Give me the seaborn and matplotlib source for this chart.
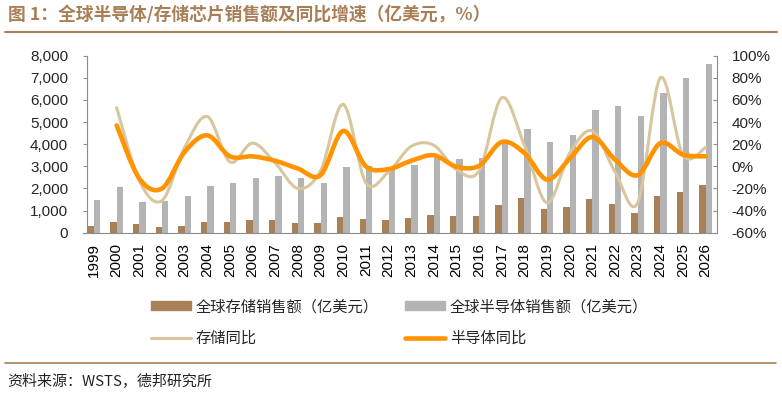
import numpy as np
import pandas as pd
import seaborn as sns
import matplotlib.pyplot as plt
from matplotlib.path import Path
from matplotlib.patches import PathPatch, Patch
from matplotlib.lines import Line2D
from matplotlib.ticker import FuncFormatter

# data
years = list(range(1999, 2027))
memory_sales = [316, 497, 392, 256, 316, 467, 482, 572, 572, 452, 437, 693, 602, 557,
                663, 783, 768, 753, 1235, 1566, 1054, 1160, 1521, 1295, 904, 1642, 1837, 2139]
semi_sales = [1476, 2048, 1390, 1430, 1657, 2123, 2259, 2470, 2545, 2470, 2244, 2967, 2995, 2916,
              3050, 3358, 3352, 3389, 4120, 4669, 4111, 4398, 5542, 5723, 5271, 6310, 6988, 7605]
yoy_years = list(range(2000, 2027))
memory_yoy = [53, -13, -31, 17, 45, 4, 21, 3, -20, -4, 56, -15, -5, 18, 19, -3, -4,
              62, 19, -33, 12, 32, -5, -33, 80, 10, 17]
semi_yoy = [37, -11, -20, 13, 28, 9, 9, 5, -2, -8, 32, 0, -2.5, 5, 10, -0.3, 0.5,
            22, 12, -12, 7, 26.5, 6, -8, 21, 10.5, 9]

names = ['全球存储销售额（亿美元）', '全球半导体销售额（亿美元）', '存储同比', '半导体同比']

sns.set_style('white')
plt.rcParams['font.family'] = ['Liberation Sans', 'Noto Sans CJK SC']
cjk = ['Noto Sans CJK SC', 'DejaVu Sans']

BROWN = '#A88158'
GRAY = '#B4B4B4'
TAN = '#D8C69E'
ORANGE = '#FF9300'
RULE = '#A97F57'
SPINE = '#8C8C8C'

bars = pd.DataFrame({
    'year': [str(y) for y in years] * 2,
    'sales': memory_sales + semi_sales,
    'series': [names[0]] * len(years) + [names[1]] * len(years),
})


def smooth_path(xs, ys):
    # excel-like smoothed line: bezier through every point
    pts = np.column_stack([xs, ys]).astype(float)
    n = len(pts)
    verts = [pts[0]]
    codes = [Path.MOVETO]
    for i in range(n - 1):
        p_prev = pts[max(i - 1, 0)]
        p0 = pts[i]
        p1 = pts[i + 1]
        p_next = pts[min(i + 2, n - 1)]
        c1 = p0 + (p1 - p_prev) / 6
        c2 = p1 - (p_next - p0) / 6
        verts += [c1, c2, p1]
        codes += [Path.CURVE4] * 3
    return Path(verts, codes)


fig = plt.figure(figsize=(7.82, 4.03), dpi=100)
W, H = 782, 403
ax = fig.add_axes([82.7 / W, 1 - 232.7 / H, (717 - 82.7) / W, 177 / H])

sns.barplot(data=bars, x='year', y='sales', hue='series', palette=[BROWN, GRAY],
            width=0.56, saturation=1, errorbar=None, linewidth=0, legend=False, ax=ax)
ax.set_xlim(-0.5, len(years) - 0.5)
ax.set_ylim(0, 8000)
ax.set_yticks(range(0, 8001, 1000))
ax.yaxis.set_major_formatter(FuncFormatter(lambda v, p: f'{v:,.0f}'))
ax.set_xlabel('')
ax.set_ylabel('')
ax.set_xticks(range(len(years)))
ax.set_xticklabels([str(y) for y in years], rotation=90)
ax.set_xticks(np.arange(0.5, len(years) - 1, 1), minor=True)
ax.tick_params(axis='x', which='major', length=0, pad=7.5, labelsize=11, colors='black')
ax.tick_params(axis='x', which='minor', direction='in', length=2.9, width=0.8, color=SPINE)
ax.tick_params(axis='y', direction='out', length=2.9, width=0.8, color=SPINE, pad=10.4,
               labelsize=11, left=True)
ax.spines['left'].set_position(('axes', 4 / 634.3))
for s in ['top', 'right']:
    ax.spines[s].set_visible(False)
for s in ['left', 'bottom']:
    ax.spines[s].set_color(SPINE)
    ax.spines[s].set_linewidth(0.8)
ax.grid(False)

ax2 = ax.twinx()
ax2.set_ylim(-60, 100)
ax2.set_yticks(range(-60, 101, 20))
ax2.yaxis.set_major_formatter(FuncFormatter(lambda v, p: f'{v:.0f}%'))
ax2.tick_params(axis='y', direction='in', length=2.9, width=0.8, color=SPINE, pad=10.6,
                labelsize=11, right=True)
for s in ['top', 'left', 'bottom']:
    ax2.spines[s].set_visible(False)
ax2.spines['right'].set_color(SPINE)
ax2.spines['right'].set_linewidth(0.8)
ax2.grid(False)

xs = [years.index(y) for y in yoy_years]
ax2.add_patch(PathPatch(smooth_path(xs, memory_yoy), fill=False, edgecolor=TAN,
                        lw=2.2, capstyle='round', joinstyle='round'))
ax2.add_patch(PathPatch(smooth_path(xs, semi_yoy), fill=False, edgecolor=ORANGE,
                        lw=3.3, capstyle='round', joinstyle='round'))

handles = [Patch(color=BROWN), Line2D([], [], color=TAN, lw=2.2),
           Patch(color=GRAY), Line2D([], [], color=ORANGE, lw=3.3)]
labels = [names[0], names[2], names[1], names[3]]
fig.legend(handles, labels, ncol=2, loc='center', bbox_to_anchor=(0.511, 0.2), 
           frameon=False, prop={'family': cjk, 'size': 11}, handlelength=2.6,
           handleheight=0.5, columnspacing=1.7, labelspacing=0.95, handletextpad=0.35)

fig.text(8 / W, 1 - 15 / H, '图 1：全球半导体/存储芯片销售额及同比增速（亿美元，%）',
         ha='left', va='center', fontsize=12.8, fontweight='bold', color=RULE, family=cjk)
fig.add_artist(Line2D([5 / W, 777 / W], [1 - 32 / H] * 2, color=RULE, lw=1.5))
fig.add_artist(Line2D([5 / W, 776 / W], [1 - 362.7 / H] * 2, color=RULE, lw=1.2))
fig.text(7 / W, 1 - 381.7 / H, '资料来源：WSTS，德邦研究所', ha='left', va='center',
         fontsize=10.8, family=cjk, color='#222222')

fig.savefig('out.png', dpi=100)
